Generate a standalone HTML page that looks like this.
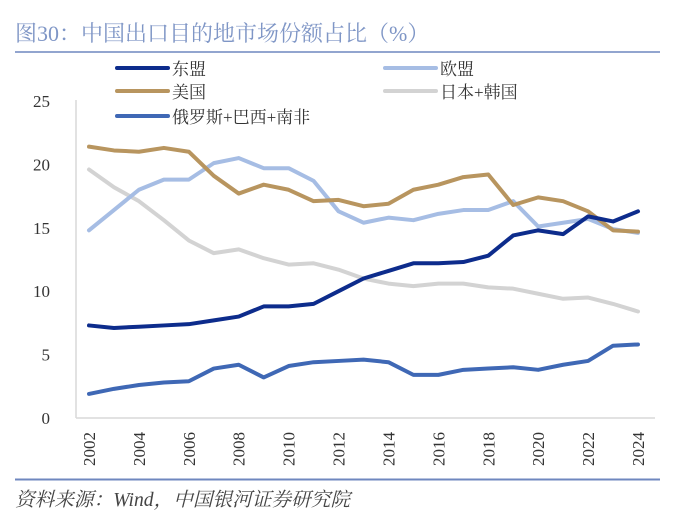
<!DOCTYPE html>
<html><head><meta charset="utf-8"><style>
body{margin:0;background:#fff;}
svg text{font-family:"Liberation Serif","Noto Serif CJK SC",serif;}
</style></head><body>
<svg width="674" height="525" xmlns="http://www.w3.org/2000/svg">
<text x="15" y="41" font-size="22" fill="#7f96c6" style="font-family:'Liberation Serif','Noto Serif CJK SC',serif">图30：中国出口目的地市场份额占比（%）</text>
<line x1="15" y1="52" x2="660" y2="52" stroke="#6f87bf" stroke-width="1.5"/>
<line x1="15" y1="479.5" x2="660" y2="479.5" stroke="#6f87bf" stroke-width="2"/>
<text x="15" y="506" font-size="19.5" fill="#444" font-style="italic" textLength="335" lengthAdjust="spacingAndGlyphs">资料来源：Wind，中国银河证券研究院</text>
<g id="axes"></g>
<g id="series"></g>
<g id="legend"></g>
</svg>
<script>
const years=[2002,2003,2004,2005,2006,2007,2008,2009,2010,2011,2012,2013,2014,2015,2016,2017,2018,2019,2020,2021,2022,2023,2024];
const yTicks=[0,5,10,15,20,25];
const seriesNames=["东盟","欧盟","美国","日本+韩国","俄罗斯+巴西+南非"];
const asean=[7.3,7.1,7.2,7.3,7.4,7.7,8.0,8.8,8.8,9.0,10.0,11.0,11.6,12.2,12.2,12.3,12.8,14.4,14.8,14.5,15.9,15.5,16.3];
const eu=[14.8,16.4,18.0,18.8,18.8,20.1,20.5,19.7,19.7,18.7,16.3,15.4,15.8,15.6,16.1,16.4,16.4,17.1,15.1,15.4,15.7,14.9,14.6];
const us=[21.4,21.1,21.0,21.3,21.0,19.1,17.7,18.4,18.0,17.1,17.2,16.7,16.9,18.0,18.4,19.0,19.2,16.8,17.4,17.1,16.3,14.8,14.7];
const jpkr=[19.6,18.2,17.1,15.6,14.0,13.0,13.3,12.6,12.1,12.2,11.7,11.0,10.6,10.4,10.6,10.6,10.3,10.2,9.8,9.4,9.5,9.0,8.4];
const rbs=[1.9,2.3,2.6,2.8,2.9,3.9,4.2,3.2,4.1,4.4,4.5,4.6,4.4,3.4,3.4,3.8,3.9,4.0,3.8,4.2,4.5,5.7,5.8];
const NS="http://www.w3.org/2000/svg";
const x=y=>89+(y-2002)*(638-89)/22;
const yv=v=>418-v*(418-101)/25;
function mk(t,a,p){const e=document.createElementNS(NS,t);for(const k in a)e.setAttribute(k,a[k]);p.appendChild(e);return e;}
const ax=document.getElementById('axes');
const yl=mk('line',{x1:76,y1:100,x2:76,y2:418,stroke:'#d9d9d9','stroke-width':1.5},ax);


const xl=mk('line',{x1:76,y1:418,x2:655,y2:418,stroke:'#d9d9d9','stroke-width':1.5},ax);


yTicks.forEach(v=>{const t=mk('text',{x:50,y:yv(v)+6,'font-size':17,fill:'#333','text-anchor':'end'},ax);t.textContent=v;

});
years.filter(y=>y%2===0).forEach(y=>{const t=mk('text',{x:0,y:0,'font-size':17,fill:'#333','text-anchor':'end',transform:`translate(${x(y)+6},432) rotate(-90)`},ax);t.textContent=y;

});
const data=[asean,eu,us,jpkr,rbs];
const colors=['#0d2c8c','#a6bde4','#b8955f','#d3d3d3','#3f68b5'];
const names=['line-asean','line-eu','line-us','line-japan-korea','line-russia-brazil-sa'];
const sg=document.getElementById('series');
[3,1,2,4,0].forEach(i=>{const p=mk('polyline',{points:data[i].map((v,j)=>x(years[j])+','+yv(v)).join(' '),fill:'none',stroke:colors[i],'stroke-width':4,'stroke-linecap':'round','stroke-linejoin':'round'},sg);

});
const lg=document.getElementById('legend');
const pos=[[117,68],[385,68],[117,91],[385,91],[117,116]];
seriesNames.forEach((n,i)=>{const g=mk('g',{},lg);


mk('line',{x1:pos[i][0],y1:pos[i][1],x2:pos[i][0]+51,y2:pos[i][1],stroke:colors[i],'stroke-width':4,'stroke-linecap':'round'},g);
const t=mk('text',{x:pos[i][0]+55,y:pos[i][1]+7,'font-size':17,fill:'#333'},g);t.textContent=n;});
</script>
</body></html>
